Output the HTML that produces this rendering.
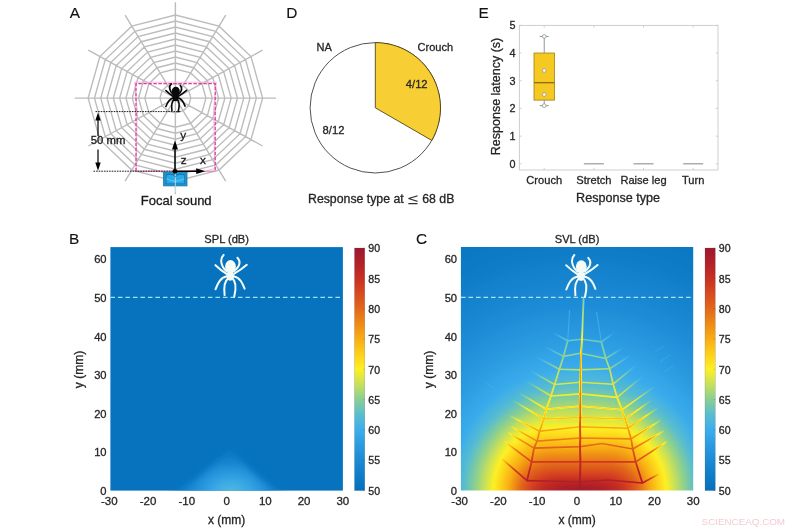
<!DOCTYPE html>
<html lang="en"><head><meta charset="utf-8"><title>Spider web acoustic response figure</title>
<style>
html,body{margin:0;padding:0;background:#fff;}
body{width:800px;height:530px;overflow:hidden;}
svg{display:block;}
text{font-family:'Liberation Sans', Arial, Helvetica, sans-serif;stroke:#262626;stroke-width:.3px;}
text.wm{stroke:none;}
text.pl{stroke:#111;stroke-width:.12px;fill:#111;}
</style></head><body>
<svg width="800" height="530" viewBox="0 0 800 530">
<rect width="800" height="530" fill="#fff"/>

<g id="panelA">
<text x="69.80" y="18.00" font-size="15.4" text-anchor="start" fill="#262626" class="pl">A</text>
<path d="M175.40,98.10L275.99,98.10 M175.40,98.10L262.51,50.20 M175.40,98.10L225.70,15.13 M175.40,98.10L175.40,2.30 M175.40,98.10L125.11,15.13 M175.40,98.10L88.29,50.20 M175.40,98.10L74.81,98.10 M175.40,98.10L88.29,146.00 M175.40,98.10L125.10,181.07 M175.40,98.10L175.40,193.90 M175.40,98.10L225.70,181.07 M175.40,98.10L262.51,146.00 M190.84,98.10L188.77,90.75L183.12,85.37L175.40,83.40L167.68,85.37L162.03,90.75L159.97,98.10L162.03,105.45L167.68,110.83L175.40,112.80L183.12,110.83L188.77,105.45Z M205.96,98.10L201.86,83.55L190.68,72.90L175.40,69.00L160.12,72.90L148.94,83.55L144.84,98.10L148.94,112.65L160.12,123.30L175.40,127.20L190.68,123.30L201.86,112.65Z M212.25,98.10L207.32,80.55L193.83,67.70L175.40,63.00L156.97,67.70L143.48,80.55L138.55,98.10L143.48,115.65L156.97,128.50L175.40,133.20L193.83,128.50L207.32,115.65Z M218.56,98.10L212.77,77.55L196.98,62.51L175.40,57.00L153.82,62.51L138.03,77.55L132.25,98.10L138.03,118.65L153.82,133.69L175.40,139.20L196.98,133.69L212.77,118.65Z M224.86,98.10L218.23,74.55L200.13,57.31L175.40,51.00L150.67,57.31L132.57,74.55L125.94,98.10L132.57,121.65L150.67,138.89L175.40,145.20L200.13,138.89L218.23,121.65Z M231.16,98.10L223.69,71.55L203.28,52.11L175.40,45.00L147.52,52.11L127.11,71.55L119.65,98.10L127.11,124.65L147.52,144.09L175.40,151.20L203.28,144.09L223.69,124.65Z M237.46,98.10L229.14,68.55L206.43,46.92L175.40,39.00L144.37,46.92L121.66,68.55L113.34,98.10L121.66,127.65L144.37,149.28L175.40,157.20L206.43,149.28L229.14,127.65Z M243.75,98.10L234.60,65.55L209.58,41.72L175.40,33.00L141.22,41.72L116.20,65.55L107.05,98.10L116.20,130.65L141.22,154.48L175.40,163.20L209.58,154.48L234.60,130.65Z M250.06,98.10L240.05,62.55L212.73,36.53L175.40,27.00L138.07,36.53L110.75,62.55L100.75,98.10L110.75,133.65L138.07,159.67L175.40,169.20L212.73,159.67L240.05,133.65Z M256.36,98.10L245.51,59.55L215.88,31.33L175.40,21.00L134.92,31.33L105.29,59.55L94.45,98.10L105.29,136.65L134.92,164.87L175.40,175.20L215.88,164.87L245.51,136.65Z M262.65,98.10L250.97,56.55L219.03,26.13L175.40,15.00L131.77,26.13L99.83,56.55L88.15,98.10L99.83,139.65L131.77,170.07L175.40,181.20L219.03,170.07L250.97,139.65Z" fill="none" stroke="#bcbcbc" stroke-width="1.4"/>
<path d="M134.8,82.2 L216.4,82.2 L213.6,110 L214.6,168.5 L205,171.4 L136.2,171.4 L137.2,110 Z" fill="none" stroke="#f2b6dc" stroke-width="0.9"/>
<path d="M136,171.2 L136,83.6 L215.2,83.6 L215.2,171.2" fill="none" stroke="#df3aa4" stroke-width="1.3" stroke-dasharray="3.4 1.6"/>
<path d="M136,171.2 L215.2,171.2" fill="none" stroke="#e774bd" stroke-width="1"/>
<path d="M95.5,111.6 L181,111.6 M93.5,171.2 L175,171.2" fill="none" stroke="#1a1a1a" stroke-width="1" stroke-dasharray="1.6 1"/>
<path d="M98,136 L98,118 M98,149.5 L98,165" stroke="#000" stroke-width="1.2" fill="none"/>
<path d="M98,112.4 L100.7,120.6 L95.3,120.6 Z M98,170.8 L100.7,162.6 L95.3,162.6 Z" fill="#000"/>
<text x="90.80" y="144.00" font-size="11.3" text-anchor="start" fill="#111" >50 mm</text>
<rect x="163.6" y="172.1" width="23.4" height="13.8" fill="#1d93cd" stroke="#1878ac" stroke-width="0.8"/>
<rect x="166.2" y="174.4" width="18.2" height="9.4" fill="#2aa9e6" stroke="#1677ad" stroke-width="0.7"/>
<path d="M166.4,178.8 Q175.3,183.6 184.2,178.8" fill="none" stroke="#63c8f2" stroke-width="1"/>
<path d="M175.3,172.5 L175.3,192.5" stroke="#cfe9f6" stroke-width="0.8"/>
<path d="M166.5,175 Q171,172.6 175.3,176.8 Q179.6,172.6 184,175" fill="none" stroke="#1677ad" stroke-width="0.9"/>
<path d="M175,171.2 L175,147 M175,171.2 L198,171.2" stroke="#000" stroke-width="1.5" fill="none"/>
<path d="M175,140.6 L178,149.4 L172,149.4 Z M205.2,171.2 L196.2,174.1 L196.2,168.3 Z" fill="#000"/>
<circle cx="175" cy="171.3" r="2.4" fill="#000"/>
<text x="180.30" y="138.60" font-size="11.8" text-anchor="start" fill="#111" >y</text>
<text x="180.80" y="163.90" font-size="11.8" text-anchor="start" fill="#111" >z</text>
<text x="200.00" y="163.80" font-size="11.8" text-anchor="start" fill="#111" >x</text>
<text x="176.20" y="205.20" font-size="13.0" text-anchor="middle" fill="#151515" >Focal sound</text>
<g fill="none" stroke="#0a0a0a" stroke-width="1.65" stroke-linecap="round" stroke-linejoin="round">
<path d="M173.36,94.74 C169.13,91.11 168.74,86.16 171.24,83.78"/>
<path d="M172.96,96.19 C169.26,93.82 167.35,91.97 165.83,90.52"/>
<path d="M173.36,97.91 C169.00,98.70 167.42,102.66 165.90,106.49"/>
<path d="M174.41,99.10 C171.38,101.34 171.38,105.96 171.90,110.32"/>
<path d="M177.98,94.74 C182.07,91.31 182.86,88.14 180.35,85.63"/>
<path d="M178.24,96.19 C182.20,93.95 184.51,92.10 186.56,90.32"/>
<path d="M177.84,97.91 C182.20,98.70 183.78,102.66 185.10,106.09"/>
<path d="M176.79,99.10 C179.96,101.34 179.43,106.62 178.24,111.37"/>
</g>
<ellipse cx="175.80" cy="91.44" rx="3.99" ry="4.73" fill="#0a0a0a"/>
<ellipse cx="175.60" cy="97.64" rx="2.96" ry="3.55" fill="#0a0a0a"/>
</g>
<g id="panelD">
<text x="286.20" y="18.20" font-size="15.4" text-anchor="start" fill="#262626" class="pl">D</text>
<circle cx="375.3" cy="107.8" r="65.2" fill="#fff" stroke="#262626" stroke-width="0.8"/>
<path d="M375.3,107.8 L375.3,42.599999999999994 A65.2,65.2 0 0 1 431.76,140.40 Z" fill="#f7ce33" stroke="#3a3210" stroke-width="0.8" stroke-linejoin="round"/>
<text x="316.60" y="51.20" font-size="11" text-anchor="start" fill="#262626" >NA</text>
<text x="417.60" y="51.40" font-size="11" text-anchor="start" fill="#262626" >Crouch</text>
<text x="405.80" y="88.40" font-size="11.2" text-anchor="start" fill="#262626" >4/12</text>
<text x="322.60" y="133.80" font-size="11.2" text-anchor="start" fill="#262626" >8/12</text>
<text x="308" y="202.5" font-size="12.3" fill="#262626">Response type at<tspan dx="3.6" dy="1.2" font-family="'DejaVu Math TeX Gyre', 'DejaVu Serif', serif" font-size="14.5" style="stroke:none" fill="#333">≤</tspan><tspan dx="3.4" dy="-1.2">68 dB</tspan></text>
</g>
<g id="panelE">
<text x="478.40" y="18.20" font-size="15.4" text-anchor="start" fill="#262626" class="pl">E</text>
<rect x="519.4" y="25.4" width="198.6" height="144.6" fill="#fff" stroke="#c9c9c9" stroke-width="0.9"/>
<text x="515.60" y="167.70" font-size="10.8" text-anchor="end" fill="#262626" >0</text>
<text x="515.60" y="140.01" font-size="10.8" text-anchor="end" fill="#262626" >1</text>
<text x="515.60" y="112.32" font-size="10.8" text-anchor="end" fill="#262626" >2</text>
<text x="515.60" y="84.63" font-size="10.8" text-anchor="end" fill="#262626" >3</text>
<text x="515.60" y="56.94" font-size="10.8" text-anchor="end" fill="#262626" >4</text>
<text x="515.60" y="29.25" font-size="10.8" text-anchor="end" fill="#262626" >5</text>
<text x="544.23" y="184.30" font-size="11.1" text-anchor="middle" fill="#262626" >Crouch</text>
<text x="593.88" y="184.30" font-size="11.1" text-anchor="middle" fill="#262626" >Stretch</text>
<text x="643.52" y="184.30" font-size="11.1" text-anchor="middle" fill="#262626" >Raise leg</text>
<text x="693.17" y="184.30" font-size="11.1" text-anchor="middle" fill="#262626" >Turn</text>
<path d="M519.4,163.80h2.2 M718.0,163.80h-2.2 M519.4,136.11h2.2 M718.0,136.11h-2.2 M519.4,108.42h2.2 M718.0,108.42h-2.2 M519.4,80.73h2.2 M718.0,80.73h-2.2 M519.4,53.04h2.2 M718.0,53.04h-2.2 M519.4,25.35h2.2 M718.0,25.35h-2.2 M544.23,170.0v-2.2 M544.23,25.4v2.2 M593.88,170.0v-2.2 M593.88,25.4v2.2 M643.52,170.0v-2.2 M643.52,25.4v2.2 M693.17,170.0v-2.2 M693.17,25.4v2.2" stroke="#c9c9c9" stroke-width="0.9" fill="none"/>
<text x="618.10" y="202.20" font-size="12.6" text-anchor="middle" fill="#262626" >Response type</text>
<text transform="translate(500.3,96.5) rotate(-90)" font-size="12.5" text-anchor="middle" fill="#262626">Response latency (s)</text>
<path d="M544.23,36.43V105.65 M539.62,36.43h9.2 M539.62,105.65h9.2" stroke="#8b98a6" stroke-width="1" fill="none"/>
<rect x="534.02" y="53.04" width="20.4" height="47.07" fill="#f6c822" stroke="#a88a18" stroke-width="0.9"/>
<path d="M534.02,82.67h20.4" stroke="#8a6f10" stroke-width="1.3"/>
<circle cx="544.23" cy="36.43" r="1.9" fill="#fffbe6" stroke="#8b98a6" stroke-width="0.8"/>
<circle cx="544.23" cy="70.48" r="1.9" fill="#fffbe6" stroke="#8b98a6" stroke-width="0.8"/>
<circle cx="544.23" cy="94.58" r="1.9" fill="#fffbe6" stroke="#8b98a6" stroke-width="0.8"/>
<circle cx="544.23" cy="105.65" r="1.9" fill="#fffbe6" stroke="#8b98a6" stroke-width="0.8"/>
<path d="M583.88,163.80h20" stroke="#9a9a9a" stroke-width="1.2"/>
<path d="M633.52,163.80h20" stroke="#9a9a9a" stroke-width="1.2"/>
<path d="M683.17,163.80h20" stroke="#9a9a9a" stroke-width="1.2"/>
</g>
<defs>
<linearGradient id="cbar" x1="0" y1="1" x2="0" y2="0"><stop offset="0.0000" stop-color="#0470bc"/><stop offset="0.0625" stop-color="#0f7cc8"/><stop offset="0.1250" stop-color="#1c8ad5"/><stop offset="0.1875" stop-color="#2b9be1"/><stop offset="0.2500" stop-color="#3cadec"/><stop offset="0.3125" stop-color="#58bdd0"/><stop offset="0.3750" stop-color="#88cf94"/><stop offset="0.4375" stop-color="#c6e05c"/><stop offset="0.5000" stop-color="#fdf024"/><stop offset="0.5625" stop-color="#fdd01a"/><stop offset="0.6250" stop-color="#f8ad14"/><stop offset="0.6875" stop-color="#ee8a16"/><stop offset="0.7500" stop-color="#e2671b"/><stop offset="0.8125" stop-color="#d84a1f"/><stop offset="0.8750" stop-color="#c83022"/><stop offset="0.9375" stop-color="#b32128"/><stop offset="1.0000" stop-color="#9c1830"/></linearGradient>
<filter id="cmapf" filterUnits="userSpaceOnUse" x="440" y="230" width="270" height="280" color-interpolation-filters="sRGB">
<feComponentTransfer><feFuncR type="table" tableValues="0.0157 0.0588 0.1098 0.1686 0.2353 0.3451 0.5333 0.7765 0.9922 0.9922 0.9725 0.9333 0.8863 0.8471 0.7843 0.7020 0.6118"/><feFuncG type="table" tableValues="0.4392 0.4863 0.5412 0.6078 0.6784 0.7412 0.8118 0.8784 0.9412 0.8157 0.6784 0.5412 0.4039 0.2902 0.1882 0.1294 0.0941"/><feFuncB type="table" tableValues="0.7373 0.7843 0.8353 0.8824 0.9255 0.8157 0.5804 0.3608 0.1412 0.1020 0.0784 0.0863 0.1059 0.1216 0.1333 0.1569 0.1882"/></feComponentTransfer></filter>
<filter id="blurf" filterUnits="userSpaceOnUse" x="420" y="210" width="310" height="320" color-interpolation-filters="sRGB"><feGaussianBlur stdDeviation="2"/></filter>
<clipPath id="clipB"><rect x="110.4" y="247.1" width="232.5" height="243.5"/></clipPath>
<clipPath id="clipC"><rect x="460.9" y="247.1" width="232.3" height="243.5"/></clipPath>
<filter id="blurB" filterUnits="userSpaceOnUse" x="100" y="420" width="260" height="100"><feGaussianBlur stdDeviation="3"/></filter>
<radialGradient id="glowB" gradientUnits="userSpaceOnUse" cx="0" cy="0" r="1" gradientTransform="translate(231,494) scale(62,46)"><stop offset="0" stop-color="#56bcd2"/><stop offset="0.2" stop-color="#42b0e6"/><stop offset="0.45" stop-color="#2a9ae0"/><stop offset="0.7" stop-color="#1683cf"/><stop offset="1" stop-color="#0773bf"/></radialGradient>
</defs>
<g id="panelB">
<rect x="110.4" y="247.1" width="232.5" height="243.5" fill="#0773bf"/>
<g clip-path="url(#clipB)"><g filter="url(#blurB)"><path d="M150,498 C188,494 210,466 230,449 C248,466 266,494 304,498 Z" fill="url(#glowB)"/></g></g>
<path d="M110.4,297.4H342.2" stroke="#9fe0f7" stroke-width="1.4" stroke-dasharray="4.6 2.9"/>
<g fill="none" stroke="#f4fbf6" stroke-width="2.00" stroke-linecap="round" stroke-linejoin="round">
<path d="M226.80,271.50 C220.40,266.00 219.80,258.50 223.60,254.90"/>
<path d="M226.20,273.70 C220.60,270.10 217.70,267.30 215.40,265.10"/>
<path d="M226.80,276.30 C220.20,277.50 217.80,283.50 215.50,289.30"/>
<path d="M228.40,278.10 C223.80,281.50 223.80,288.50 224.60,295.10"/>
<path d="M233.80,271.50 C240.00,266.30 241.20,261.50 237.40,257.70"/>
<path d="M234.20,273.70 C240.20,270.30 243.70,267.50 246.80,264.80"/>
<path d="M233.60,276.30 C240.20,277.50 242.60,283.50 244.60,288.70"/>
<path d="M232.00,278.10 C236.80,281.50 236.00,289.50 234.20,296.70"/>
</g>
<ellipse cx="230.50" cy="266.50" rx="5.40" ry="6.40" fill="#f4fbf6"/>
<ellipse cx="230.20" cy="275.90" rx="4.00" ry="4.80" fill="#f4fbf6"/>
<text x="109.26" y="504.80" font-size="11.5" text-anchor="middle" fill="#262626" >-30</text>
<text x="147.99" y="504.80" font-size="11.5" text-anchor="middle" fill="#262626" >-20</text>
<text x="186.72" y="504.80" font-size="11.5" text-anchor="middle" fill="#262626" >-10</text>
<text x="226.65" y="504.80" font-size="11.5" text-anchor="middle" fill="#262626" >0</text>
<text x="265.38" y="504.80" font-size="11.5" text-anchor="middle" fill="#262626" >10</text>
<text x="304.11" y="504.80" font-size="11.5" text-anchor="middle" fill="#262626" >20</text>
<text x="342.84" y="504.80" font-size="11.5" text-anchor="middle" fill="#262626" >30</text>
<text x="106.60" y="494.70" font-size="11.2" text-anchor="end" fill="#262626" >0</text>
<text x="106.60" y="456.15" font-size="11.2" text-anchor="end" fill="#262626" >10</text>
<text x="106.60" y="417.60" font-size="11.2" text-anchor="end" fill="#262626" >20</text>
<text x="106.60" y="379.05" font-size="11.2" text-anchor="end" fill="#262626" >30</text>
<text x="106.60" y="340.50" font-size="11.2" text-anchor="end" fill="#262626" >40</text>
<text x="106.60" y="301.95" font-size="11.2" text-anchor="end" fill="#262626" >50</text>
<text x="106.60" y="263.40" font-size="11.2" text-anchor="end" fill="#262626" >60</text>
<text x="226.65" y="523.60" font-size="12" text-anchor="middle" fill="#262626" >x (mm)</text>
<text transform="translate(82.8,369.5) rotate(-90)" font-size="12" text-anchor="middle" fill="#262626">y (mm)</text>
<text x="226.65" y="243.00" font-size="11.1" text-anchor="middle" fill="#262626" >SPL (dB)</text>
<text x="69.00" y="244.20" font-size="15.4" text-anchor="start" fill="#262626" class="pl">B</text>
<rect x="354.5" y="248" width="10.3" height="242.6" fill="url(#cbar)" stroke="#5a5a5a" stroke-opacity="0.5" stroke-width="0.4"/>
<text x="368.35" y="494.80" font-size="10.6" text-anchor="start" fill="#262626" >50</text>
<path d="M364.8,490.60h-1.6" stroke="#3a3a3a" stroke-opacity="0.6" stroke-width="0.4"/>
<text x="368.35" y="464.48" font-size="10.6" text-anchor="start" fill="#262626" >55</text>
<path d="M364.8,460.28h-1.6" stroke="#3a3a3a" stroke-opacity="0.6" stroke-width="0.4"/>
<text x="368.35" y="434.16" font-size="10.6" text-anchor="start" fill="#262626" >60</text>
<path d="M364.8,429.96h-1.6" stroke="#3a3a3a" stroke-opacity="0.6" stroke-width="0.4"/>
<text x="368.35" y="403.84" font-size="10.6" text-anchor="start" fill="#262626" >65</text>
<path d="M364.8,399.64h-1.6" stroke="#3a3a3a" stroke-opacity="0.6" stroke-width="0.4"/>
<text x="368.35" y="373.52" font-size="10.6" text-anchor="start" fill="#262626" >70</text>
<path d="M364.8,369.32h-1.6" stroke="#3a3a3a" stroke-opacity="0.6" stroke-width="0.4"/>
<text x="368.35" y="343.20" font-size="10.6" text-anchor="start" fill="#262626" >75</text>
<path d="M364.8,339.00h-1.6" stroke="#3a3a3a" stroke-opacity="0.6" stroke-width="0.4"/>
<text x="368.35" y="312.88" font-size="10.6" text-anchor="start" fill="#262626" >80</text>
<path d="M364.8,308.68h-1.6" stroke="#3a3a3a" stroke-opacity="0.6" stroke-width="0.4"/>
<text x="368.35" y="282.56" font-size="10.6" text-anchor="start" fill="#262626" >85</text>
<path d="M364.8,278.36h-1.6" stroke="#3a3a3a" stroke-opacity="0.6" stroke-width="0.4"/>
<text x="368.35" y="252.24" font-size="10.6" text-anchor="start" fill="#262626" >90</text>
<path d="M364.8,248.04h-1.6" stroke="#3a3a3a" stroke-opacity="0.6" stroke-width="0.4"/>
</g>
<g id="panelC">
<g clip-path="url(#clipC)"><g filter="url(#cmapf)">
<g filter="url(#blurf)"><rect x="430" y="220" width="300" height="300" fill="#050505"/><ellipse cx="579.8" cy="491.1" rx="309.8" ry="308.4" fill="#060606"/><ellipse cx="579.8" cy="491.1" rx="293.2" ry="292.0" fill="#090909"/><ellipse cx="579.8" cy="491.1" rx="276.7" ry="275.5" fill="#0b0b0b"/><ellipse cx="579.8" cy="491.1" rx="260.2" ry="259.1" fill="#0e0e0e"/><ellipse cx="579.8" cy="491.1" rx="245.8" ry="244.7" fill="#111111"/><ellipse cx="579.8" cy="491.1" rx="237.7" ry="236.7" fill="#131313"/><ellipse cx="579.8" cy="491.1" rx="229.7" ry="228.7" fill="#161616"/><ellipse cx="579.8" cy="491.1" rx="221.6" ry="220.7" fill="#181818"/><ellipse cx="579.8" cy="491.1" rx="213.6" ry="212.6" fill="#1b1b1b"/><ellipse cx="579.8" cy="491.1" rx="205.5" ry="204.6" fill="#1d1d1d"/><ellipse cx="579.8" cy="491.1" rx="197.5" ry="196.6" fill="#202020"/><ellipse cx="579.8" cy="491.1" rx="191.3" ry="190.4" fill="#222222"/><ellipse cx="579.8" cy="491.1" rx="185.1" ry="184.3" fill="#252525"/><ellipse cx="579.8" cy="491.1" rx="178.9" ry="178.1" fill="#282828"/><ellipse cx="579.8" cy="491.1" rx="172.7" ry="171.9" fill="#2a2a2a"/><ellipse cx="579.8" cy="491.1" rx="166.5" ry="165.8" fill="#2d2d2d"/><ellipse cx="579.8" cy="491.1" rx="160.3" ry="159.6" fill="#2f2f2f"/><ellipse cx="579.8" cy="491.1" rx="155.3" ry="154.1" fill="#323232"/><ellipse cx="579.8" cy="491.1" rx="150.6" ry="148.9" fill="#343434"/><ellipse cx="579.8" cy="491.1" rx="146.0" ry="143.6" fill="#373737"/><ellipse cx="579.8" cy="491.1" rx="141.3" ry="138.4" fill="#393939"/><ellipse cx="579.8" cy="491.1" rx="136.7" ry="133.2" fill="#3c3c3c"/><ellipse cx="579.8" cy="491.1" rx="132.0" ry="127.9" fill="#3e3e3e"/><ellipse cx="579.8" cy="491.1" rx="128.7" ry="124.0" fill="#414141"/><ellipse cx="579.8" cy="491.1" rx="126.7" ry="121.3" fill="#444444"/><ellipse cx="579.8" cy="491.1" rx="124.8" ry="118.7" fill="#464646"/><ellipse cx="579.8" cy="491.1" rx="122.8" ry="116.0" fill="#494949"/><ellipse cx="579.8" cy="491.1" rx="120.8" ry="113.4" fill="#4b4b4b"/><g fill="#4e4e4e"><ellipse cx="579.0" cy="491.1" rx="118.0" ry="110.7"/><ellipse cx="580.5" cy="491.1" rx="118.0" ry="110.7"/><rect x="579.0" y="380.4" width="1.5" height="111.7"/></g><g fill="#505050"><ellipse cx="577.4" cy="491.1" rx="114.6" ry="108.1"/><ellipse cx="582.1" cy="491.1" rx="114.6" ry="108.1"/><rect x="577.4" y="383.0" width="4.6" height="109.1"/></g><g fill="#535353"><ellipse cx="575.9" cy="491.1" rx="111.3" ry="105.6"/><ellipse cx="583.6" cy="491.1" rx="111.3" ry="105.6"/><rect x="575.9" y="385.5" width="7.7" height="106.6"/></g><g fill="#555555"><ellipse cx="574.3" cy="491.1" rx="108.0" ry="103.2"/><ellipse cx="585.2" cy="491.1" rx="108.0" ry="103.2"/><rect x="574.3" y="387.9" width="10.8" height="104.2"/></g><g fill="#585858"><ellipse cx="572.8" cy="491.1" rx="104.7" ry="100.7"/><ellipse cx="586.7" cy="491.1" rx="104.7" ry="100.7"/><rect x="572.8" y="390.4" width="13.9" height="101.7"/></g><g fill="#5b5b5b"><ellipse cx="571.2" cy="491.1" rx="101.4" ry="98.2"/><ellipse cx="588.3" cy="491.1" rx="101.4" ry="98.2"/><rect x="571.2" y="392.9" width="17.0" height="99.2"/></g><g fill="#5d5d5d"><ellipse cx="569.7" cy="491.1" rx="98.1" ry="95.8"/><ellipse cx="589.8" cy="491.1" rx="98.1" ry="95.8"/><rect x="569.7" y="395.3" width="20.1" height="96.8"/></g><g fill="#606060"><ellipse cx="568.1" cy="491.1" rx="94.9" ry="93.3"/><ellipse cx="591.4" cy="491.1" rx="94.9" ry="93.3"/><rect x="568.1" y="397.8" width="23.2" height="94.3"/></g><g fill="#626262"><ellipse cx="566.6" cy="491.1" rx="91.8" ry="91.1"/><ellipse cx="592.9" cy="491.1" rx="91.8" ry="91.1"/><rect x="566.6" y="400.0" width="26.3" height="92.1"/></g><g fill="#656565"><ellipse cx="565.0" cy="491.1" rx="88.7" ry="88.9"/><ellipse cx="594.5" cy="491.1" rx="88.7" ry="88.9"/><rect x="565.0" y="402.2" width="29.4" height="89.9"/></g><g fill="#676767"><ellipse cx="563.5" cy="491.1" rx="85.6" ry="86.6"/><ellipse cx="596.0" cy="491.1" rx="85.6" ry="86.6"/><rect x="563.5" y="404.5" width="32.5" height="87.6"/></g><g fill="#6a6a6a"><ellipse cx="561.9" cy="491.1" rx="82.5" ry="84.4"/><ellipse cx="597.6" cy="491.1" rx="82.5" ry="84.4"/><rect x="561.9" y="406.7" width="35.6" height="85.4"/></g><g fill="#6c6c6c"><ellipse cx="560.4" cy="491.1" rx="79.4" ry="82.2"/><ellipse cx="599.1" cy="491.1" rx="79.4" ry="82.2"/><rect x="560.4" y="408.9" width="38.7" height="83.2"/></g><g fill="#6f6f6f"><ellipse cx="558.9" cy="491.1" rx="76.3" ry="80.0"/><ellipse cx="600.7" cy="491.1" rx="76.3" ry="80.0"/><rect x="558.9" y="411.1" width="41.8" height="81.0"/></g><g fill="#717171"><ellipse cx="557.3" cy="491.1" rx="73.2" ry="77.6"/><ellipse cx="602.2" cy="491.1" rx="73.2" ry="77.6"/><rect x="557.3" y="413.5" width="44.9" height="78.6"/></g><g fill="#747474"><ellipse cx="555.8" cy="491.1" rx="70.1" ry="75.1"/><ellipse cx="603.8" cy="491.1" rx="70.1" ry="75.1"/><rect x="555.8" y="416.0" width="48.0" height="76.1"/></g><g fill="#777777"><ellipse cx="554.2" cy="491.1" rx="67.0" ry="72.6"/><ellipse cx="605.3" cy="491.1" rx="67.0" ry="72.6"/><rect x="554.2" y="418.5" width="51.1" height="73.6"/></g><g fill="#797979"><ellipse cx="552.7" cy="491.1" rx="63.9" ry="70.2"/><ellipse cx="606.9" cy="491.1" rx="63.9" ry="70.2"/><rect x="552.7" y="420.9" width="54.2" height="71.2"/></g><g fill="#7c7c7c"><ellipse cx="551.1" cy="491.1" rx="60.8" ry="67.7"/><ellipse cx="608.4" cy="491.1" rx="60.8" ry="67.7"/><rect x="551.1" y="423.4" width="57.3" height="68.7"/></g><g fill="#7e7e7e"><ellipse cx="549.6" cy="491.1" rx="57.7" ry="65.2"/><ellipse cx="610.0" cy="491.1" rx="57.7" ry="65.2"/><rect x="549.6" y="425.9" width="60.4" height="66.2"/></g><g fill="#818181"><ellipse cx="548.8" cy="491.1" rx="55.5" ry="63.2"/><ellipse cx="610.7" cy="491.1" rx="55.5" ry="63.2"/><rect x="548.8" y="427.9" width="62.0" height="64.2"/></g><g fill="#838383"><ellipse cx="548.8" cy="491.1" rx="54.3" ry="61.6"/><ellipse cx="610.7" cy="491.1" rx="54.3" ry="61.6"/><rect x="548.8" y="429.5" width="62.0" height="62.6"/></g><g fill="#868686"><ellipse cx="548.8" cy="491.1" rx="53.0" ry="60.0"/><ellipse cx="610.7" cy="491.1" rx="53.0" ry="60.0"/><rect x="548.8" y="431.1" width="62.0" height="61.0"/></g><g fill="#888888"><ellipse cx="548.8" cy="491.1" rx="51.8" ry="58.4"/><ellipse cx="610.7" cy="491.1" rx="51.8" ry="58.4"/><rect x="548.8" y="432.7" width="62.0" height="59.4"/></g><g fill="#8b8b8b"><ellipse cx="548.8" cy="491.1" rx="50.6" ry="56.8"/><ellipse cx="610.7" cy="491.1" rx="50.6" ry="56.8"/><rect x="548.8" y="434.3" width="62.0" height="57.8"/></g><g fill="#8e8e8e"><ellipse cx="548.8" cy="491.1" rx="49.3" ry="55.2"/><ellipse cx="610.7" cy="491.1" rx="49.3" ry="55.2"/><rect x="548.8" y="435.9" width="62.0" height="56.2"/></g><g fill="#909090"><ellipse cx="548.8" cy="491.1" rx="48.1" ry="53.6"/><ellipse cx="610.7" cy="491.1" rx="48.1" ry="53.6"/><rect x="548.8" y="437.5" width="62.0" height="54.6"/></g><g fill="#939393"><ellipse cx="548.8" cy="491.1" rx="46.9" ry="52.0"/><ellipse cx="610.7" cy="491.1" rx="46.9" ry="52.0"/><rect x="548.8" y="439.1" width="62.0" height="53.0"/></g><g fill="#959595"><ellipse cx="548.8" cy="491.1" rx="45.6" ry="50.4"/><ellipse cx="610.7" cy="491.1" rx="45.6" ry="50.4"/><rect x="548.8" y="440.7" width="62.0" height="51.4"/></g><g fill="#989898"><ellipse cx="548.8" cy="491.1" rx="44.4" ry="48.8"/><ellipse cx="610.7" cy="491.1" rx="44.4" ry="48.8"/><rect x="548.8" y="442.3" width="62.0" height="49.8"/></g><g fill="#9a9a9a"><ellipse cx="548.8" cy="491.1" rx="43.1" ry="47.2"/><ellipse cx="610.7" cy="491.1" rx="43.1" ry="47.2"/><rect x="548.8" y="443.9" width="62.0" height="48.2"/></g><g fill="#9d9d9d"><ellipse cx="548.8" cy="491.1" rx="41.9" ry="45.6"/><ellipse cx="610.7" cy="491.1" rx="41.9" ry="45.6"/><rect x="548.8" y="445.5" width="62.0" height="46.6"/></g><g fill="#9f9f9f"><ellipse cx="547.5" cy="491.1" rx="39.4" ry="43.9"/><ellipse cx="612.0" cy="491.1" rx="39.4" ry="43.9"/><rect x="547.5" y="447.2" width="64.5" height="44.9"/></g><g fill="#a2a2a2"><ellipse cx="547.9" cy="491.1" rx="38.9" ry="42.6"/><ellipse cx="611.6" cy="491.1" rx="38.9" ry="42.6"/><rect x="547.9" y="448.5" width="63.6" height="43.6"/></g><g fill="#a4a4a4"><ellipse cx="548.4" cy="491.1" rx="38.4" ry="41.2"/><ellipse cx="611.2" cy="491.1" rx="38.4" ry="41.2"/><rect x="548.4" y="449.9" width="62.8" height="42.2"/></g><g fill="#a7a7a7"><ellipse cx="548.8" cy="491.1" rx="37.9" ry="39.9"/><ellipse cx="610.7" cy="491.1" rx="37.9" ry="39.9"/><rect x="548.8" y="451.2" width="62.0" height="40.9"/></g><g fill="#aaaaaa"><ellipse cx="549.2" cy="491.1" rx="37.4" ry="38.5"/><ellipse cx="610.3" cy="491.1" rx="37.4" ry="38.5"/><rect x="549.2" y="452.6" width="61.1" height="39.5"/></g><g fill="#acacac"><ellipse cx="549.6" cy="491.1" rx="36.8" ry="37.2"/><ellipse cx="609.9" cy="491.1" rx="36.8" ry="37.2"/><rect x="549.6" y="453.9" width="60.3" height="38.2"/></g><g fill="#afafaf"><ellipse cx="550.0" cy="491.1" rx="36.3" ry="35.8"/><ellipse cx="609.5" cy="491.1" rx="36.3" ry="35.8"/><rect x="550.0" y="455.3" width="59.5" height="36.8"/></g><g fill="#b1b1b1"><ellipse cx="550.5" cy="491.1" rx="35.8" ry="34.4"/><ellipse cx="609.1" cy="491.1" rx="35.8" ry="34.4"/><rect x="550.5" y="456.7" width="58.6" height="35.4"/></g><g fill="#b4b4b4"><ellipse cx="550.9" cy="491.1" rx="35.3" ry="33.1"/><ellipse cx="608.6" cy="491.1" rx="35.3" ry="33.1"/><rect x="550.9" y="458.0" width="57.8" height="34.1"/></g><g fill="#b6b6b6"><ellipse cx="551.3" cy="491.1" rx="34.8" ry="31.7"/><ellipse cx="608.2" cy="491.1" rx="34.8" ry="31.7"/><rect x="551.3" y="459.4" width="56.9" height="32.7"/></g><g fill="#b9b9b9"><ellipse cx="551.7" cy="491.1" rx="34.3" ry="30.4"/><ellipse cx="607.8" cy="491.1" rx="34.3" ry="30.4"/><rect x="551.7" y="460.7" width="56.1" height="31.4"/></g><g fill="#bbbbbb"><ellipse cx="552.1" cy="491.1" rx="33.8" ry="29.0"/><ellipse cx="607.4" cy="491.1" rx="33.8" ry="29.0"/><rect x="552.1" y="462.1" width="55.3" height="30.0"/></g><g fill="#bebebe"><ellipse cx="552.5" cy="491.1" rx="33.3" ry="27.7"/><ellipse cx="607.0" cy="491.1" rx="33.3" ry="27.7"/><rect x="552.5" y="463.4" width="54.4" height="28.7"/></g><g fill="#c1c1c1"><ellipse cx="553.0" cy="491.1" rx="32.7" ry="26.4"/><ellipse cx="606.5" cy="491.1" rx="32.7" ry="26.4"/><rect x="553.0" y="464.7" width="53.5" height="27.4"/></g><g fill="#c3c3c3"><ellipse cx="553.5" cy="491.1" rx="32.1" ry="25.1"/><ellipse cx="606.0" cy="491.1" rx="32.1" ry="25.1"/><rect x="553.5" y="466.0" width="52.4" height="26.1"/></g><g fill="#c6c6c6"><ellipse cx="554.1" cy="491.1" rx="31.4" ry="23.9"/><ellipse cx="605.5" cy="491.1" rx="31.4" ry="23.9"/><rect x="554.1" y="467.2" width="51.4" height="24.9"/></g><g fill="#c8c8c8"><ellipse cx="554.6" cy="491.1" rx="30.8" ry="22.7"/><ellipse cx="604.9" cy="491.1" rx="30.8" ry="22.7"/><rect x="554.6" y="468.4" width="50.4" height="23.7"/></g><g fill="#cbcbcb"><ellipse cx="555.1" cy="491.1" rx="30.1" ry="21.4"/><ellipse cx="604.4" cy="491.1" rx="30.1" ry="21.4"/><rect x="555.1" y="469.7" width="49.3" height="22.4"/></g><g fill="#cdcdcd"><ellipse cx="555.7" cy="491.1" rx="29.5" ry="20.3"/><ellipse cx="603.9" cy="491.1" rx="29.5" ry="20.3"/><rect x="555.7" y="470.8" width="48.2" height="21.3"/></g><g fill="#d0d0d0"><ellipse cx="556.3" cy="491.1" rx="28.7" ry="19.2"/><ellipse cx="603.3" cy="491.1" rx="28.7" ry="19.2"/><rect x="556.3" y="471.9" width="47.0" height="20.2"/></g><g fill="#d2d2d2"><ellipse cx="556.8" cy="491.1" rx="28.0" ry="18.1"/><ellipse cx="602.7" cy="491.1" rx="28.0" ry="18.1"/><rect x="556.8" y="473.0" width="45.8" height="19.1"/></g><g fill="#d5d5d5"><ellipse cx="557.4" cy="491.1" rx="27.3" ry="17.0"/><ellipse cx="602.1" cy="491.1" rx="27.3" ry="17.0"/><rect x="557.4" y="474.1" width="44.6" height="18.0"/></g><g fill="#d7d7d7"><ellipse cx="558.0" cy="491.1" rx="26.6" ry="16.0"/><ellipse cx="601.5" cy="491.1" rx="26.6" ry="16.0"/><rect x="558.0" y="475.1" width="43.5" height="17.0"/></g><g fill="#dadada"><ellipse cx="558.7" cy="491.1" rx="25.7" ry="14.9"/><ellipse cx="600.8" cy="491.1" rx="25.7" ry="14.9"/><rect x="558.7" y="476.2" width="42.1" height="15.9"/></g><g fill="#dddddd"><ellipse cx="559.5" cy="491.1" rx="24.7" ry="13.8"/><ellipse cx="600.0" cy="491.1" rx="24.7" ry="13.8"/><rect x="559.5" y="477.3" width="40.5" height="14.8"/></g><g fill="#dfdfdf"><ellipse cx="560.3" cy="491.1" rx="23.7" ry="12.7"/><ellipse cx="599.2" cy="491.1" rx="23.7" ry="12.7"/><rect x="560.3" y="478.4" width="38.9" height="13.7"/></g><g fill="#e2e2e2"><ellipse cx="561.1" cy="491.1" rx="22.8" ry="11.6"/><ellipse cx="598.4" cy="491.1" rx="22.8" ry="11.6"/><rect x="561.1" y="479.5" width="37.3" height="12.6"/></g><g fill="#e4e4e4"><ellipse cx="561.9" cy="491.1" rx="21.8" ry="10.6"/><ellipse cx="597.6" cy="491.1" rx="21.8" ry="10.6"/><rect x="561.9" y="480.5" width="35.6" height="11.6"/></g><g fill="#e7e7e7"><ellipse cx="563.0" cy="491.1" rx="20.4" ry="9.6"/><ellipse cx="596.5" cy="491.1" rx="20.4" ry="9.6"/><rect x="563.0" y="481.5" width="33.5" height="10.6"/></g><g fill="#e9e9e9"><ellipse cx="564.4" cy="491.1" rx="18.7" ry="8.6"/><ellipse cx="595.1" cy="491.1" rx="18.7" ry="8.6"/><rect x="564.4" y="482.5" width="30.7" height="9.6"/></g><g fill="#ececec"><ellipse cx="565.8" cy="491.1" rx="17.0" ry="7.7"/><ellipse cx="593.7" cy="491.1" rx="17.0" ry="7.7"/><rect x="565.8" y="483.4" width="27.9" height="8.7"/></g><g fill="#eeeeee"><ellipse cx="567.2" cy="491.1" rx="15.3" ry="6.8"/><ellipse cx="592.3" cy="491.1" rx="15.3" ry="6.8"/><rect x="567.2" y="484.3" width="25.1" height="7.8"/></g><g fill="#f1f1f1"><ellipse cx="568.6" cy="491.1" rx="13.6" ry="5.9"/><ellipse cx="590.9" cy="491.1" rx="13.6" ry="5.9"/><rect x="568.6" y="485.2" width="22.3" height="6.9"/></g><g fill="#f4f4f4"><ellipse cx="570.7" cy="491.1" rx="11.1" ry="4.8"/><ellipse cx="588.8" cy="491.1" rx="11.1" ry="4.8"/><rect x="570.7" y="486.3" width="18.1" height="5.8"/></g><g fill="#f6f6f6"><ellipse cx="573.5" cy="491.1" rx="7.7" ry="3.5"/><ellipse cx="586.0" cy="491.1" rx="7.7" ry="3.5"/><rect x="573.5" y="487.6" width="12.5" height="4.5"/></g><g fill="#f9f9f9"><ellipse cx="576.3" cy="491.1" rx="4.3" ry="2.3"/><ellipse cx="583.2" cy="491.1" rx="4.3" ry="2.3"/><rect x="576.3" y="488.8" width="7.0" height="3.3"/></g></g>
<defs>
<linearGradient id="gside" gradientUnits="userSpaceOnUse" x1="0" y1="300" x2="0" y2="491"><stop offset="0.000" stop-color="#333333"/><stop offset="0.052" stop-color="#3a3a3a"/><stop offset="0.105" stop-color="#424242"/><stop offset="0.157" stop-color="#4e4e4e"/><stop offset="0.209" stop-color="#595959"/><stop offset="0.262" stop-color="#606060"/><stop offset="0.314" stop-color="#676767"/><stop offset="0.366" stop-color="#6e6e6e"/><stop offset="0.419" stop-color="#737373"/><stop offset="0.471" stop-color="#787878"/><stop offset="0.524" stop-color="#808080"/><stop offset="0.576" stop-color="#8b8b8b"/><stop offset="0.628" stop-color="#989898"/><stop offset="0.681" stop-color="#a6a6a6"/><stop offset="0.733" stop-color="#b6b6b6"/><stop offset="0.785" stop-color="#c6c6c6"/><stop offset="0.838" stop-color="#d6d6d6"/><stop offset="0.890" stop-color="#e6e6e6"/><stop offset="0.942" stop-color="#efefef"/><stop offset="0.995" stop-color="#f8f8f8"/></linearGradient>
<linearGradient id="gcent" gradientUnits="userSpaceOnUse" x1="0" y1="297" x2="0" y2="491"><stop offset="0.000" stop-color="#5e5e5e"/><stop offset="0.052" stop-color="#656565"/><stop offset="0.103" stop-color="#6c6c6c"/><stop offset="0.155" stop-color="#777777"/><stop offset="0.206" stop-color="#838383"/><stop offset="0.258" stop-color="#8f8f8f"/><stop offset="0.309" stop-color="#999999"/><stop offset="0.361" stop-color="#a3a3a3"/><stop offset="0.412" stop-color="#aaaaaa"/><stop offset="0.464" stop-color="#b1b1b1"/><stop offset="0.515" stop-color="#b7b7b7"/><stop offset="0.567" stop-color="#bdbdbd"/><stop offset="0.619" stop-color="#c4c4c4"/><stop offset="0.670" stop-color="#cccccc"/><stop offset="0.722" stop-color="#d4d4d4"/><stop offset="0.773" stop-color="#dddddd"/><stop offset="0.825" stop-color="#e4e4e4"/><stop offset="0.876" stop-color="#ebebeb"/><stop offset="0.928" stop-color="#f2f2f2"/><stop offset="0.979" stop-color="#f9f9f9"/></linearGradient>
</defs>
<path d="M569.6,310.0 L567.7,340.8" stroke="#4c4c4c" stroke-opacity="0.7" stroke-width="1.1" fill="none"/>
<path d="M596.6,312.0 L601.3,341.9" stroke="#4c4c4c" stroke-opacity="0.7" stroke-width="1.1" fill="none"/>
<path d="M567.7,340.8 L563.5,356.4 L559.4,369.2 L554.6,384.5 L551.0,396.0 L546.3,409.2 L543.8,419.0 L539.6,431.3 L537.1,441.1 L534.0,448.1 L531.6,461.9 L527.0,480.6 M601.3,341.9 L605.8,358.5 L609.6,368.8 L613.2,384.2 L617.1,397.4 L621.9,409.8 L625.0,419.0 L628.0,428.2 L631.1,438.9 L632.8,449.0 L635.7,461.9 L642.4,483.0" stroke="url(#gside)" stroke-width="1.8" fill="none" stroke-linejoin="round"/>
<path d="M567.7,340.8 L581.8,339.2 L601.3,341.9 M563.5,356.4 L580.3,353.3 L605.8,358.5 M559.4,369.2 L580.3,369.9 L609.6,368.8 M554.6,384.5 L580.3,382.2 L613.2,384.2 M551.0,396.0 L580.3,393.9 L617.1,397.4 M546.3,409.2 L580.3,406.1 L621.9,409.8 M543.8,419.0 L580.3,417.5 L625.0,419.0 M539.6,431.3 L580.3,426.7 L628.0,428.2 M537.1,441.1 L580.3,438.0 L631.1,438.9 M534.0,448.1 L580.3,446.6 L602.0,443.5 L632.8,449.0 M531.6,461.9 L580.3,461.9 L635.7,461.9 M527.0,480.6 L546.9,481.0 L580.3,481.8 L608.1,480.0 L642.4,483.0" stroke="url(#gside)" stroke-width="1.6" fill="none" stroke-linejoin="round"/>
<path d="M583.6,298.0 L582.0,339.2 L581.1,353.3 L580.7,369.9 L580.5,383.3 L580.4,393.9 L580.2,406.1 L580.3,417.5 L580.0,426.7 L580.3,438.0 L580.0,446.6 L580.4,461.9 L580.0,481.8 L580.0,490.0" stroke="url(#gcent)" stroke-width="1.9" fill="none" stroke-linejoin="round"/>
<defs><linearGradient id="b0_0" gradientUnits="userSpaceOnUse" x1="567.7" y1="340.8" x2="552.5" y2="332.5"><stop offset="0" stop-color="#575757"/><stop offset="0.55" stop-color="#474747" stop-opacity="0.85"/><stop offset="1" stop-color="#373737" stop-opacity="0.15"/></linearGradient><linearGradient id="b0_1" gradientUnits="userSpaceOnUse" x1="563.5" y1="356.4" x2="545.3" y2="347.0"><stop offset="0" stop-color="#626262"/><stop offset="0.55" stop-color="#525252" stop-opacity="0.85"/><stop offset="1" stop-color="#424242" stop-opacity="0.15"/></linearGradient><linearGradient id="b0_2" gradientUnits="userSpaceOnUse" x1="559.4" y1="369.2" x2="537.0" y2="357.4"><stop offset="0" stop-color="#6b6b6b"/><stop offset="0.55" stop-color="#5b5b5b" stop-opacity="0.85"/><stop offset="1" stop-color="#4b4b4b" stop-opacity="0.15"/></linearGradient><linearGradient id="b0_3" gradientUnits="userSpaceOnUse" x1="554.6" y1="384.5" x2="530.7" y2="370.9"><stop offset="0" stop-color="#727272"/><stop offset="0.55" stop-color="#636363" stop-opacity="0.85"/><stop offset="1" stop-color="#535353" stop-opacity="0.15"/></linearGradient><linearGradient id="b0_4" gradientUnits="userSpaceOnUse" x1="551.0" y1="396.0" x2="526.6" y2="381.3"><stop offset="0" stop-color="#797979"/><stop offset="0.55" stop-color="#696969" stop-opacity="0.85"/><stop offset="1" stop-color="#595959" stop-opacity="0.15"/></linearGradient><linearGradient id="b0_5" gradientUnits="userSpaceOnUse" x1="546.3" y1="409.2" x2="519.3" y2="393.0"><stop offset="0" stop-color="#878787"/><stop offset="0.55" stop-color="#777777" stop-opacity="0.85"/><stop offset="1" stop-color="#676767" stop-opacity="0.15"/></linearGradient><linearGradient id="b0_6" gradientUnits="userSpaceOnUse" x1="543.8" y1="419.0" x2="513.2" y2="400.6"><stop offset="0" stop-color="#949494"/><stop offset="0.55" stop-color="#848484" stop-opacity="0.85"/><stop offset="1" stop-color="#747474" stop-opacity="0.15"/></linearGradient><linearGradient id="b0_7" gradientUnits="userSpaceOnUse" x1="539.6" y1="431.3" x2="510.1" y2="415.9"><stop offset="0" stop-color="#a5a5a5"/><stop offset="0.55" stop-color="#959595" stop-opacity="0.85"/><stop offset="1" stop-color="#858585" stop-opacity="0.15"/></linearGradient><linearGradient id="b0_8" gradientUnits="userSpaceOnUse" x1="537.1" y1="441.1" x2="511.7" y2="426.7"><stop offset="0" stop-color="#b4b4b4"/><stop offset="0.55" stop-color="#a4a4a4" stop-opacity="0.85"/><stop offset="1" stop-color="#949494" stop-opacity="0.15"/></linearGradient><linearGradient id="b0_9" gradientUnits="userSpaceOnUse" x1="534.0" y1="448.1" x2="508.6" y2="432.8"><stop offset="0" stop-color="#bfbfbf"/><stop offset="0.55" stop-color="#afafaf" stop-opacity="0.85"/><stop offset="1" stop-color="#a0a0a0" stop-opacity="0.15"/></linearGradient><linearGradient id="b0_10" gradientUnits="userSpaceOnUse" x1="531.6" y1="461.9" x2="505.5" y2="442.0"><stop offset="0" stop-color="#d5d5d5"/><stop offset="0.55" stop-color="#c5c5c5" stop-opacity="0.85"/><stop offset="1" stop-color="#b6b6b6" stop-opacity="0.15"/></linearGradient><linearGradient id="b0_11" gradientUnits="userSpaceOnUse" x1="527.0" y1="480.6" x2="502.5" y2="459.4"><stop offset="0" stop-color="#ededed"/><stop offset="0.55" stop-color="#dddddd" stop-opacity="0.85"/><stop offset="1" stop-color="#cdcdcd" stop-opacity="0.15"/></linearGradient><linearGradient id="b1_0" gradientUnits="userSpaceOnUse" x1="601.3" y1="341.9" x2="614.7" y2="332.5"><stop offset="0" stop-color="#575757"/><stop offset="0.55" stop-color="#474747" stop-opacity="0.85"/><stop offset="1" stop-color="#383838" stop-opacity="0.15"/></linearGradient><linearGradient id="b1_1" gradientUnits="userSpaceOnUse" x1="605.8" y1="358.5" x2="623.0" y2="347.7"><stop offset="0" stop-color="#636363"/><stop offset="0.55" stop-color="#535353" stop-opacity="0.85"/><stop offset="1" stop-color="#434343" stop-opacity="0.15"/></linearGradient><linearGradient id="b1_2" gradientUnits="userSpaceOnUse" x1="609.6" y1="368.8" x2="629.3" y2="356.0"><stop offset="0" stop-color="#6a6a6a"/><stop offset="0.55" stop-color="#5a5a5a" stop-opacity="0.85"/><stop offset="1" stop-color="#4a4a4a" stop-opacity="0.15"/></linearGradient><linearGradient id="b1_3" gradientUnits="userSpaceOnUse" x1="613.2" y1="384.2" x2="635.5" y2="365.7"><stop offset="0" stop-color="#727272"/><stop offset="0.55" stop-color="#626262" stop-opacity="0.85"/><stop offset="1" stop-color="#525252" stop-opacity="0.15"/></linearGradient><linearGradient id="b1_4" gradientUnits="userSpaceOnUse" x1="617.1" y1="397.4" x2="641.7" y2="377.1"><stop offset="0" stop-color="#7a7a7a"/><stop offset="0.55" stop-color="#6a6a6a" stop-opacity="0.85"/><stop offset="1" stop-color="#5b5b5b" stop-opacity="0.15"/></linearGradient><linearGradient id="b1_5" gradientUnits="userSpaceOnUse" x1="621.9" y1="409.8" x2="654.1" y2="386.8"><stop offset="0" stop-color="#888888"/><stop offset="0.55" stop-color="#787878" stop-opacity="0.85"/><stop offset="1" stop-color="#686868" stop-opacity="0.15"/></linearGradient><linearGradient id="b1_6" gradientUnits="userSpaceOnUse" x1="625.0" y1="419.0" x2="651.0" y2="400.6"><stop offset="0" stop-color="#949494"/><stop offset="0.55" stop-color="#848484" stop-opacity="0.85"/><stop offset="1" stop-color="#747474" stop-opacity="0.15"/></linearGradient><linearGradient id="b1_7" gradientUnits="userSpaceOnUse" x1="628.0" y1="428.2" x2="657.1" y2="408.3"><stop offset="0" stop-color="#a0a0a0"/><stop offset="0.55" stop-color="#909090" stop-opacity="0.85"/><stop offset="1" stop-color="#808080" stop-opacity="0.15"/></linearGradient><linearGradient id="b1_8" gradientUnits="userSpaceOnUse" x1="631.1" y1="438.9" x2="660.2" y2="420.5"><stop offset="0" stop-color="#b1b1b1"/><stop offset="0.55" stop-color="#a1a1a1" stop-opacity="0.85"/><stop offset="1" stop-color="#919191" stop-opacity="0.15"/></linearGradient><linearGradient id="b1_9" gradientUnits="userSpaceOnUse" x1="632.8" y1="449.0" x2="663.3" y2="431.3"><stop offset="0" stop-color="#c1c1c1"/><stop offset="0.55" stop-color="#b1b1b1" stop-opacity="0.85"/><stop offset="1" stop-color="#a1a1a1" stop-opacity="0.15"/></linearGradient><linearGradient id="b1_10" gradientUnits="userSpaceOnUse" x1="635.7" y1="461.9" x2="666.3" y2="442.0"><stop offset="0" stop-color="#d5d5d5"/><stop offset="0.55" stop-color="#c5c5c5" stop-opacity="0.85"/><stop offset="1" stop-color="#b6b6b6" stop-opacity="0.15"/></linearGradient><linearGradient id="b1_11" gradientUnits="userSpaceOnUse" x1="642.4" y1="483.0" x2="658.7" y2="474.1"><stop offset="0" stop-color="#efefef"/><stop offset="0.55" stop-color="#dfdfdf" stop-opacity="0.85"/><stop offset="1" stop-color="#cfcfcf" stop-opacity="0.15"/></linearGradient></defs>
<g stroke-width="1.6" fill="none" stroke-linecap="round"><path d="M567.7,340.8L552.5,332.5" stroke="url(#b0_0)"/><path d="M563.5,356.4L545.3,347.0" stroke="url(#b0_1)"/><path d="M559.4,369.2L537.0,357.4" stroke="url(#b0_2)"/><path d="M554.6,384.5L530.7,370.9" stroke="url(#b0_3)"/><path d="M551.0,396.0L526.6,381.3" stroke="url(#b0_4)"/><path d="M546.3,409.2L519.3,393.0" stroke="url(#b0_5)"/><path d="M543.8,419.0L513.2,400.6" stroke="url(#b0_6)"/><path d="M539.6,431.3L510.1,415.9" stroke="url(#b0_7)"/><path d="M537.1,441.1L511.7,426.7" stroke="url(#b0_8)"/><path d="M534.0,448.1L508.6,432.8" stroke="url(#b0_9)"/><path d="M531.6,461.9L505.5,442.0" stroke="url(#b0_10)"/><path d="M527.0,480.6L502.5,459.4" stroke="url(#b0_11)"/><path d="M601.3,341.9L614.7,332.5" stroke="url(#b1_0)"/><path d="M605.8,358.5L623.0,347.7" stroke="url(#b1_1)"/><path d="M609.6,368.8L629.3,356.0" stroke="url(#b1_2)"/><path d="M613.2,384.2L635.5,365.7" stroke="url(#b1_3)"/><path d="M617.1,397.4L641.7,377.1" stroke="url(#b1_4)"/><path d="M621.9,409.8L654.1,386.8" stroke="url(#b1_5)"/><path d="M625.0,419.0L651.0,400.6" stroke="url(#b1_6)"/><path d="M628.0,428.2L657.1,408.3" stroke="url(#b1_7)"/><path d="M631.1,438.9L660.2,420.5" stroke="url(#b1_8)"/><path d="M632.8,449.0L663.3,431.3" stroke="url(#b1_9)"/><path d="M635.7,461.9L666.3,442.0" stroke="url(#b1_10)"/><path d="M642.4,483.0L658.7,474.1" stroke="url(#b1_11)"/></g>
<path d="M655,352 L664,346 M660,362 L670,355 M664,372 L673,366 M494,388 L486,383 M499,402 L490,396" stroke="#464646" stroke-opacity="0.55" stroke-width="1" fill="none"/>
</g></g>
<path d="M461,297.4H692.6" stroke="#a8e4f8" stroke-width="1.4" stroke-dasharray="4.6 2.9"/>
<g fill="none" stroke="#f4fbf6" stroke-width="2.00" stroke-linecap="round" stroke-linejoin="round">
<path d="M577.60,271.70 C571.20,266.20 570.60,258.70 574.40,255.10"/>
<path d="M577.00,273.90 C571.40,270.30 568.50,267.50 566.20,265.30"/>
<path d="M577.60,276.50 C571.00,277.70 568.60,283.70 566.30,289.50"/>
<path d="M579.20,278.30 C574.60,281.70 574.60,288.70 575.40,295.30"/>
<path d="M584.60,271.70 C590.80,266.50 592.00,261.70 588.20,257.90"/>
<path d="M585.00,273.90 C591.00,270.50 594.50,267.70 597.60,265.00"/>
<path d="M584.40,276.50 C591.00,277.70 593.40,283.70 595.40,288.90"/>
<path d="M582.80,278.30 C587.60,281.70 586.80,289.70 585.00,296.90"/>
</g>
<ellipse cx="581.30" cy="266.70" rx="5.40" ry="6.40" fill="#f4fbf6"/>
<ellipse cx="581.00" cy="276.10" rx="4.00" ry="4.80" fill="#f4fbf6"/>
<text x="459.66" y="504.80" font-size="11.5" text-anchor="middle" fill="#262626" >-30</text>
<text x="498.39" y="504.80" font-size="11.5" text-anchor="middle" fill="#262626" >-20</text>
<text x="537.12" y="504.80" font-size="11.5" text-anchor="middle" fill="#262626" >-10</text>
<text x="577.05" y="504.80" font-size="11.5" text-anchor="middle" fill="#262626" >0</text>
<text x="615.78" y="504.80" font-size="11.5" text-anchor="middle" fill="#262626" >10</text>
<text x="654.51" y="504.80" font-size="11.5" text-anchor="middle" fill="#262626" >20</text>
<text x="693.24" y="504.80" font-size="11.5" text-anchor="middle" fill="#262626" >30</text>
<text x="457.10" y="494.70" font-size="11.2" text-anchor="end" fill="#262626" >0</text>
<text x="457.10" y="456.15" font-size="11.2" text-anchor="end" fill="#262626" >10</text>
<text x="457.10" y="417.60" font-size="11.2" text-anchor="end" fill="#262626" >20</text>
<text x="457.10" y="379.05" font-size="11.2" text-anchor="end" fill="#262626" >30</text>
<text x="457.10" y="340.50" font-size="11.2" text-anchor="end" fill="#262626" >40</text>
<text x="457.10" y="301.95" font-size="11.2" text-anchor="end" fill="#262626" >50</text>
<text x="457.10" y="263.40" font-size="11.2" text-anchor="end" fill="#262626" >60</text>
<text x="577.05" y="523.60" font-size="12" text-anchor="middle" fill="#262626" >x (mm)</text>
<text transform="translate(433.3,369.5) rotate(-90)" font-size="12" text-anchor="middle" fill="#262626">y (mm)</text>
<text x="577.05" y="243.00" font-size="11.1" text-anchor="middle" fill="#262626" >SVL (dB)</text>
<text x="415.90" y="244.20" font-size="15.4" text-anchor="start" fill="#262626" class="pl">C</text>
<rect x="705.0" y="248" width="10.3" height="242.6" fill="url(#cbar)" stroke="#5a5a5a" stroke-opacity="0.5" stroke-width="0.4"/>
<text x="718.85" y="494.80" font-size="10.6" text-anchor="start" fill="#262626" >50</text>
<path d="M715.2,490.60h-1.6" stroke="#3a3a3a" stroke-opacity="0.6" stroke-width="0.4"/>
<text x="718.85" y="464.48" font-size="10.6" text-anchor="start" fill="#262626" >55</text>
<path d="M715.2,460.28h-1.6" stroke="#3a3a3a" stroke-opacity="0.6" stroke-width="0.4"/>
<text x="718.85" y="434.16" font-size="10.6" text-anchor="start" fill="#262626" >60</text>
<path d="M715.2,429.96h-1.6" stroke="#3a3a3a" stroke-opacity="0.6" stroke-width="0.4"/>
<text x="718.85" y="403.84" font-size="10.6" text-anchor="start" fill="#262626" >65</text>
<path d="M715.2,399.64h-1.6" stroke="#3a3a3a" stroke-opacity="0.6" stroke-width="0.4"/>
<text x="718.85" y="373.52" font-size="10.6" text-anchor="start" fill="#262626" >70</text>
<path d="M715.2,369.32h-1.6" stroke="#3a3a3a" stroke-opacity="0.6" stroke-width="0.4"/>
<text x="718.85" y="343.20" font-size="10.6" text-anchor="start" fill="#262626" >75</text>
<path d="M715.2,339.00h-1.6" stroke="#3a3a3a" stroke-opacity="0.6" stroke-width="0.4"/>
<text x="718.85" y="312.88" font-size="10.6" text-anchor="start" fill="#262626" >80</text>
<path d="M715.2,308.68h-1.6" stroke="#3a3a3a" stroke-opacity="0.6" stroke-width="0.4"/>
<text x="718.85" y="282.56" font-size="10.6" text-anchor="start" fill="#262626" >85</text>
<path d="M715.2,278.36h-1.6" stroke="#3a3a3a" stroke-opacity="0.6" stroke-width="0.4"/>
<text x="718.85" y="252.24" font-size="10.6" text-anchor="start" fill="#262626" >90</text>
<path d="M715.2,248.04h-1.6" stroke="#3a3a3a" stroke-opacity="0.6" stroke-width="0.4"/>
</g>
<text x="701.6" y="524.6" font-size="9.9" class="wm" fill="#f3ccd3" textLength="83.5" lengthAdjust="spacing">SCIENCEAQ.COM</text>
</svg>
</body></html>
